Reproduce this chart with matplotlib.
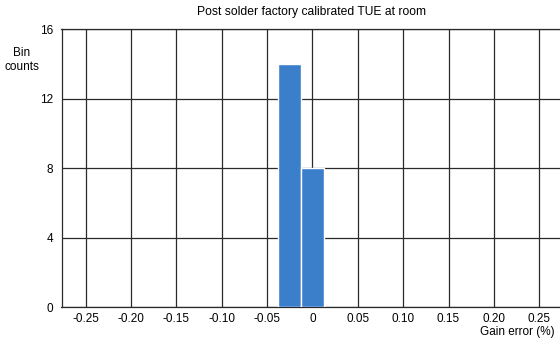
import matplotlib
matplotlib.use('Agg')
import matplotlib.pyplot as plt

# histogram bins (gain error %, bin centers) and counts
bin_centers = [-0.025, 0.0]
bin_counts = [14, 8]
bin_width = 0.025

x_ticks = [-0.25, -0.20, -0.15, -0.10, -0.05, 0.0, 0.05, 0.10, 0.15, 0.20, 0.25]
x_tick_labels = ['-0.25', '-0.20', '-0.15', '-0.10', '-0.05', '0', '0.05', '0.10', '0.15', '0.20', '0.25']
y_ticks = [0, 4, 8, 12, 16]

plt.rcParams['font.family'] = ['Liberation Sans', 'DejaVu Sans']

fig = plt.figure(figsize=(5.6, 3.4), dpi=100)
ax = fig.add_axes([61.5 / 560, 33 / 340, 500 / 560, 277.7 / 340])

ax.bar(bin_centers, bin_counts, width=bin_width, color='#3b7fcb',
       edgecolor='white', linewidth=1.0, zorder=3)

ax.set_xlim(-0.2765, 0.2745)
ax.set_ylim(0, 16)
ax.set_xticks(x_ticks)
ax.set_xticklabels(x_tick_labels)
ax.set_yticks(y_ticks)
ax.tick_params(length=0, labelsize=8.5, colors='black')
ax.tick_params(axis='x', pad=4.5)
ax.tick_params(axis='y', pad=6)
ax.grid(True, color='#2a2a2a', linewidth=0.9, zorder=0)

ax.spines['right'].set_visible(False)
for s in ['left', 'bottom', 'top']:
    ax.spines[s].set_color('#2a2a2a')
    ax.spines[s].set_linewidth(0.9)

ax.set_title('Post solder factory calibrated TUE at room', fontsize=8.7, pad=10)
fig.text(22 / 560, 1 - 60 / 340, 'Bin\ncounts', fontsize=8.5, ha='center', va='center',
         linespacing=1.3)
fig.text(555 / 560, 1 - 332 / 340, 'Gain error (%)', fontsize=8.5, ha='right', va='center')

fig.savefig('out.png', dpi=100)
